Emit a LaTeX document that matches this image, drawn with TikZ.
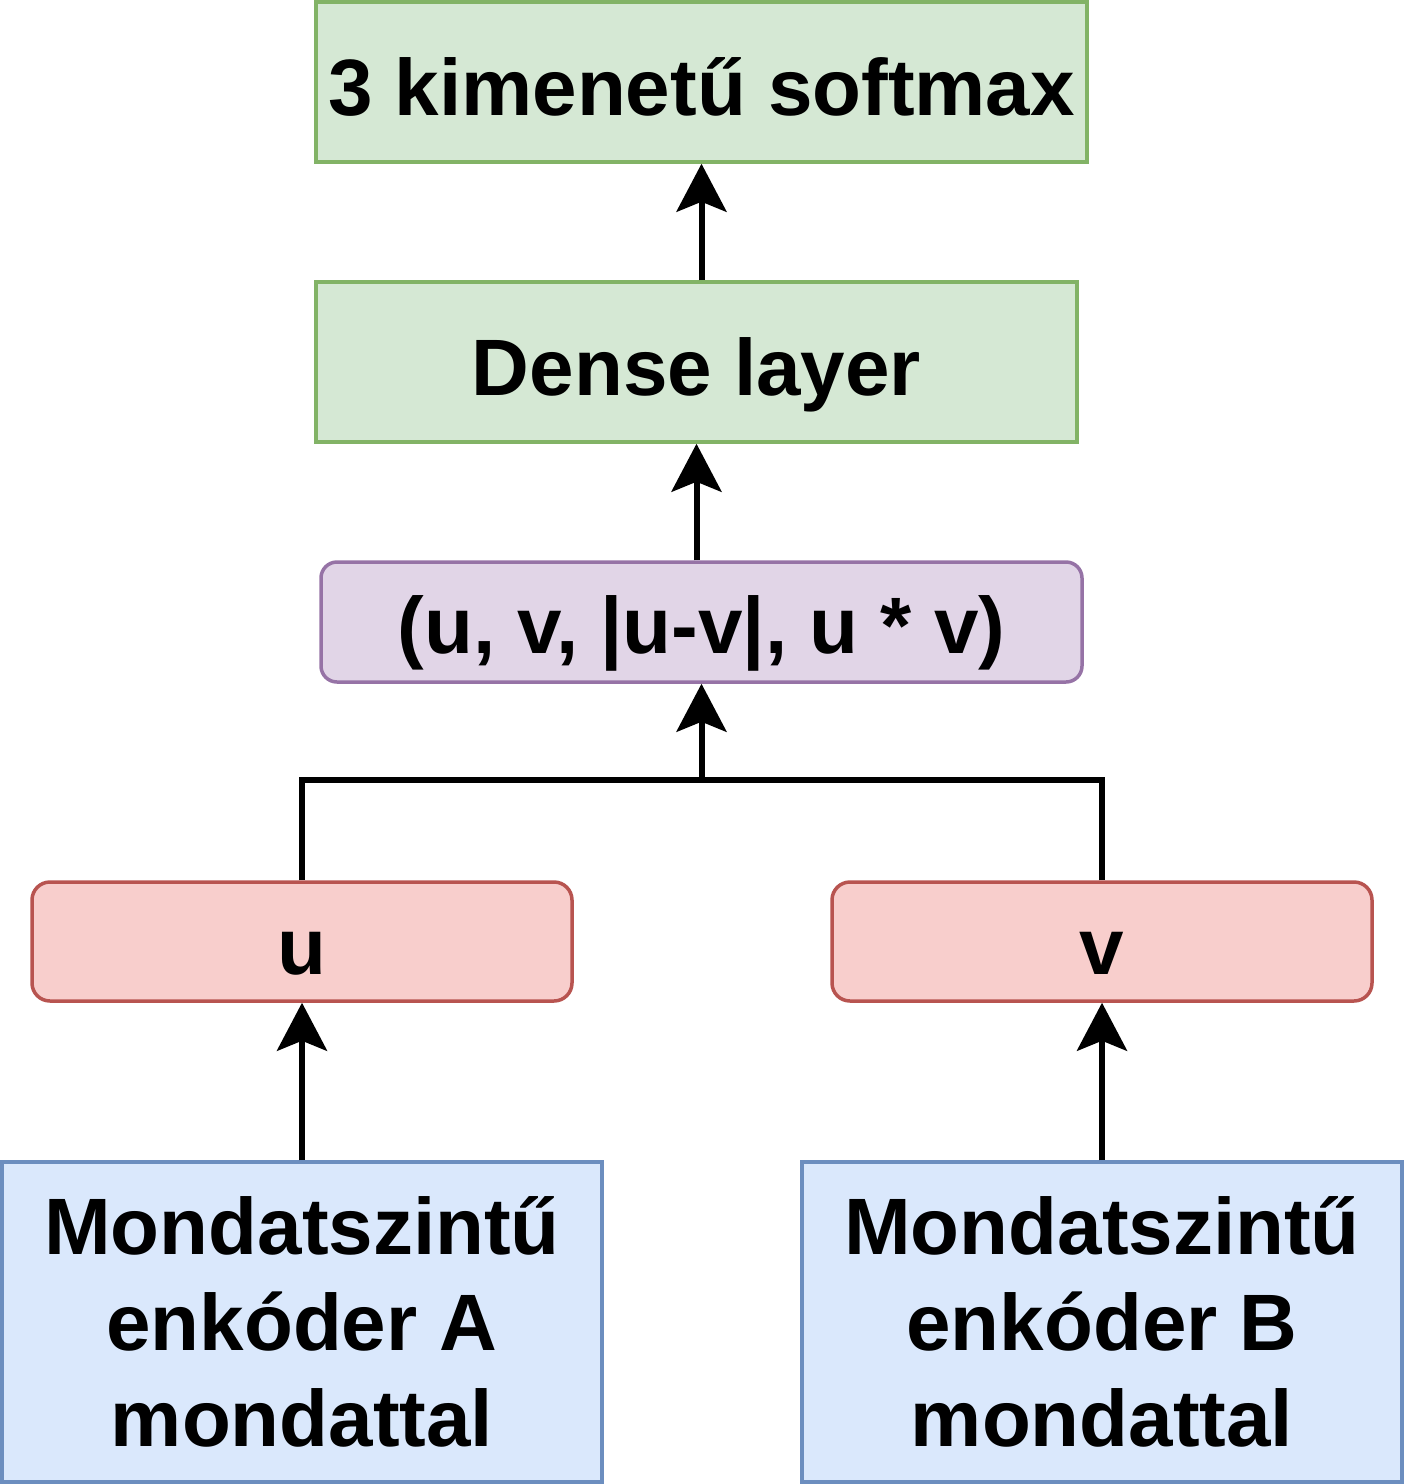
\documentclass[tikz,border=0pt]{standalone}
\usepackage{fontspec}
\setmainfont{Liberation Sans}
\usetikzlibrary{arrows.meta}
\definecolor{gfill}{HTML}{D5E8D4}\definecolor{gline}{HTML}{82B366}
\definecolor{pfill}{HTML}{E1D5E7}\definecolor{pline}{HTML}{9673A6}
\definecolor{rfill}{HTML}{F8CECC}\definecolor{rline}{HTML}{B85450}
\definecolor{bfill}{HTML}{DAE8FC}\definecolor{bline}{HTML}{6C8EBF}
\tikzset{
  box/.style={inner sep=0pt, line width=3.5pt, align=center,
    font=\fontsize{80}{96}\selectfont\bfseries},
  oneline/.style={text height=76pt, text depth=10pt},
  greenbox/.style={box, oneline, fill=gfill, draw=gline},
  purplebox/.style={box, text height=72pt, text depth=10pt, fill=pfill, draw=pline, rounded corners=16pt},
  redbox/.style={box, oneline, fill=rfill, draw=rline, rounded corners=18pt},
  bluebox/.style={box, fill=bfill, draw=bline},
  conn/.style={line width=6pt, line join=miter},
  arr/.style={conn, -{Stealth[length=48pt,width=50pt,inset=10pt]}}
}
\begin{document}
\begin{tikzpicture}[x=1pt,y=-1pt]
\useasboundingbox (0,0) rectangle (1404,1484);
\node[greenbox, minimum width=771pt, minimum height=160pt] (soft) at (701.5,82) {3 kimenetű softmax};
\node[greenbox, minimum width=761pt, minimum height=160pt] (dense) at (696.5,362) {Dense layer};
\node[purplebox, minimum width=761pt, minimum height=120pt] (comb) at (701.5,622) {(u, v, |u-v|, u * v)};
\node[redbox, minimum width=540pt, minimum height=119pt] (u) at (302,941.5) {u};
\node[redbox, minimum width=540pt, minimum height=119pt] (v) at (1102,941.5) {v};
\node[bluebox, minimum width=600pt, minimum height=320pt] (encA) at (302,1322) {\rule{0pt}{0pt}\raisebox{0pt}{}Mondatszintű\\enkóder A\\mondattal};
\node[bluebox, minimum width=600pt, minimum height=320pt] (encB) at (1102,1322) {Mondatszintű\\enkóder B\\mondattal};
\coordinate (j) at (701.5,780);
\draw[arr] (encA.north) -- (u.south);
\draw[arr] (encB.north) -- (v.south);
\draw[conn] (u.north) |- (j);
\draw[conn] (v.north) |- (j);
\draw[arr] (j) -- (comb.south);
\draw[arr] (comb.north -| dense.north) -- (dense.south);
\draw[arr] (dense.north -| comb.north) -- (soft.south -| comb.north);
\end{tikzpicture}
\end{document}
